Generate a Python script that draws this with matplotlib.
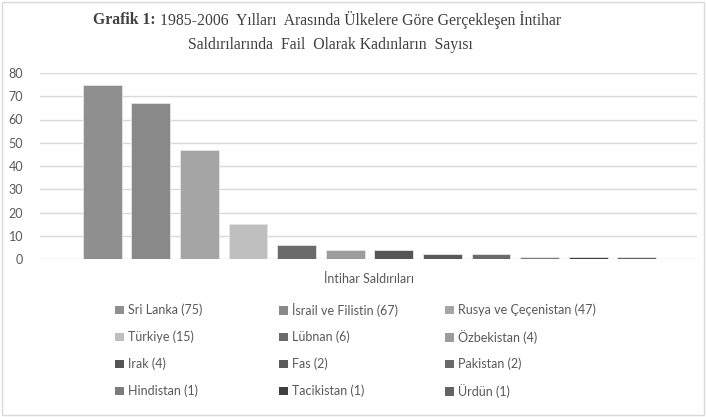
import matplotlib
matplotlib.use("Agg")
import matplotlib.pyplot as plt
from matplotlib.patches import Rectangle, Patch

countries = ["Sri Lanka", "İsrail ve Filistin", "Rusya ve Çeçenistan", "Türkiye", "Lübnan",
             "Özbekistan", "Irak", "Fas", "Pakistan", "Hindistan", "Tacikistan", "Ürdün"]
values = [75, 67, 47, 15, 6, 4, 4, 2, 2, 1, 1, 1]
colors = ["#8f8f8f", "#898989", "#a5a5a5", "#bfbfbf", "#6b6b6b", "#9c9c9c",
          "#555555", "#5a5a5a", "#6a6a6a", "#7c7c7c", "#3f3f3f", "#636363"]
yticks = [0, 10, 20, 30, 40, 50, 60, 70, 80]

sans = ["Lato", "Liberation Sans", "DejaVu Sans"]
serif = "Liberation Serif"
txtc = "#595959"
titc = "#404040"

fig = plt.figure(figsize=(7.06, 4.17), dpi=100)
fig.patches.append(Rectangle((0.003, 0.004), 0.994, 0.992, transform=fig.transFigure,
                             fill=False, edgecolor="#d9d9d9", linewidth=1))

ax = fig.add_axes([40/706, 1-259/417, 657/706, (259-73)/417])
handles = []
for i, (c, v, col) in enumerate(zip(countries, values, colors)):
    ax.bar(i, v, width=0.8, color=col, edgecolor="#e6e6e6", linewidth=0.6, zorder=3)
    handles.append(Patch(facecolor=col, edgecolor="none", label=f"{c} ({v})"))

ax.set_xlim(-1.28, 12.24)
ax.set_ylim(0, 80)
ax.set_yticks(yticks)
ax.set_xticks([])
ax.grid(axis="y", color="#d9d9d9", linewidth=1, zorder=0)
for s in ax.spines.values():
    s.set_visible(False)
ax.tick_params(axis="y", length=0, pad=12, labelcolor=txtc, labelsize=9)
for lab in ax.get_yticklabels():
    lab.set_family(sans)
ax.set_xlabel("İntihar Saldırıları", family=sans, color=txtc, fontsize=9, labelpad=10)

# title: bold prefix + regular remainder, centred together
renderer = fig.canvas.get_renderer()
fs = 11.3
t_bold = fig.text(0, 1-20/417, "Grafik 1:", ha="left", va="center", family=serif,
                  weight="bold", fontsize=fs, color=titc)
t_reg = fig.text(0, 1-20/417, " 1985-2006  Yılları  Arasında Ülkelere Göre Gerçekleşen İntihar",
                 ha="left", va="center", family=serif, fontsize=fs, color=titc)
wb = t_bold.get_window_extent(renderer).width
wr = t_reg.get_window_extent(renderer).width
cx = 327
x0 = cx - (wb + wr) / 2
t_bold.set_x(x0 / 706)
t_reg.set_x((x0 + wb) / 706)
fig.text(330/706, 1-45/417, "Saldırılarında  Fail  Olarak Kadınların  Sayısı",
         ha="center", va="center", family=serif, fontsize=fs, color=titc)

# legend: one entry per slot, 3 columns x 4 rows, filled row-wise
col_x = [111, 275, 441]
row_y = [310, 337, 364, 391]
for k, h in enumerate(handles):
    r, c = divmod(k, 3)
    leg = fig.legend([h], [h.get_label()], loc="center left",
                     bbox_to_anchor=(col_x[c]/706, 1-row_y[r]/417),
                     frameon=False, handlelength=0.7, handleheight=0.7, handletextpad=0.4,
                     borderpad=0, borderaxespad=0.3, prop={"family": sans, "size": 9})
    for t in leg.get_texts():
        t.set_color(txtc)

fig.savefig("out.png", dpi=100)
